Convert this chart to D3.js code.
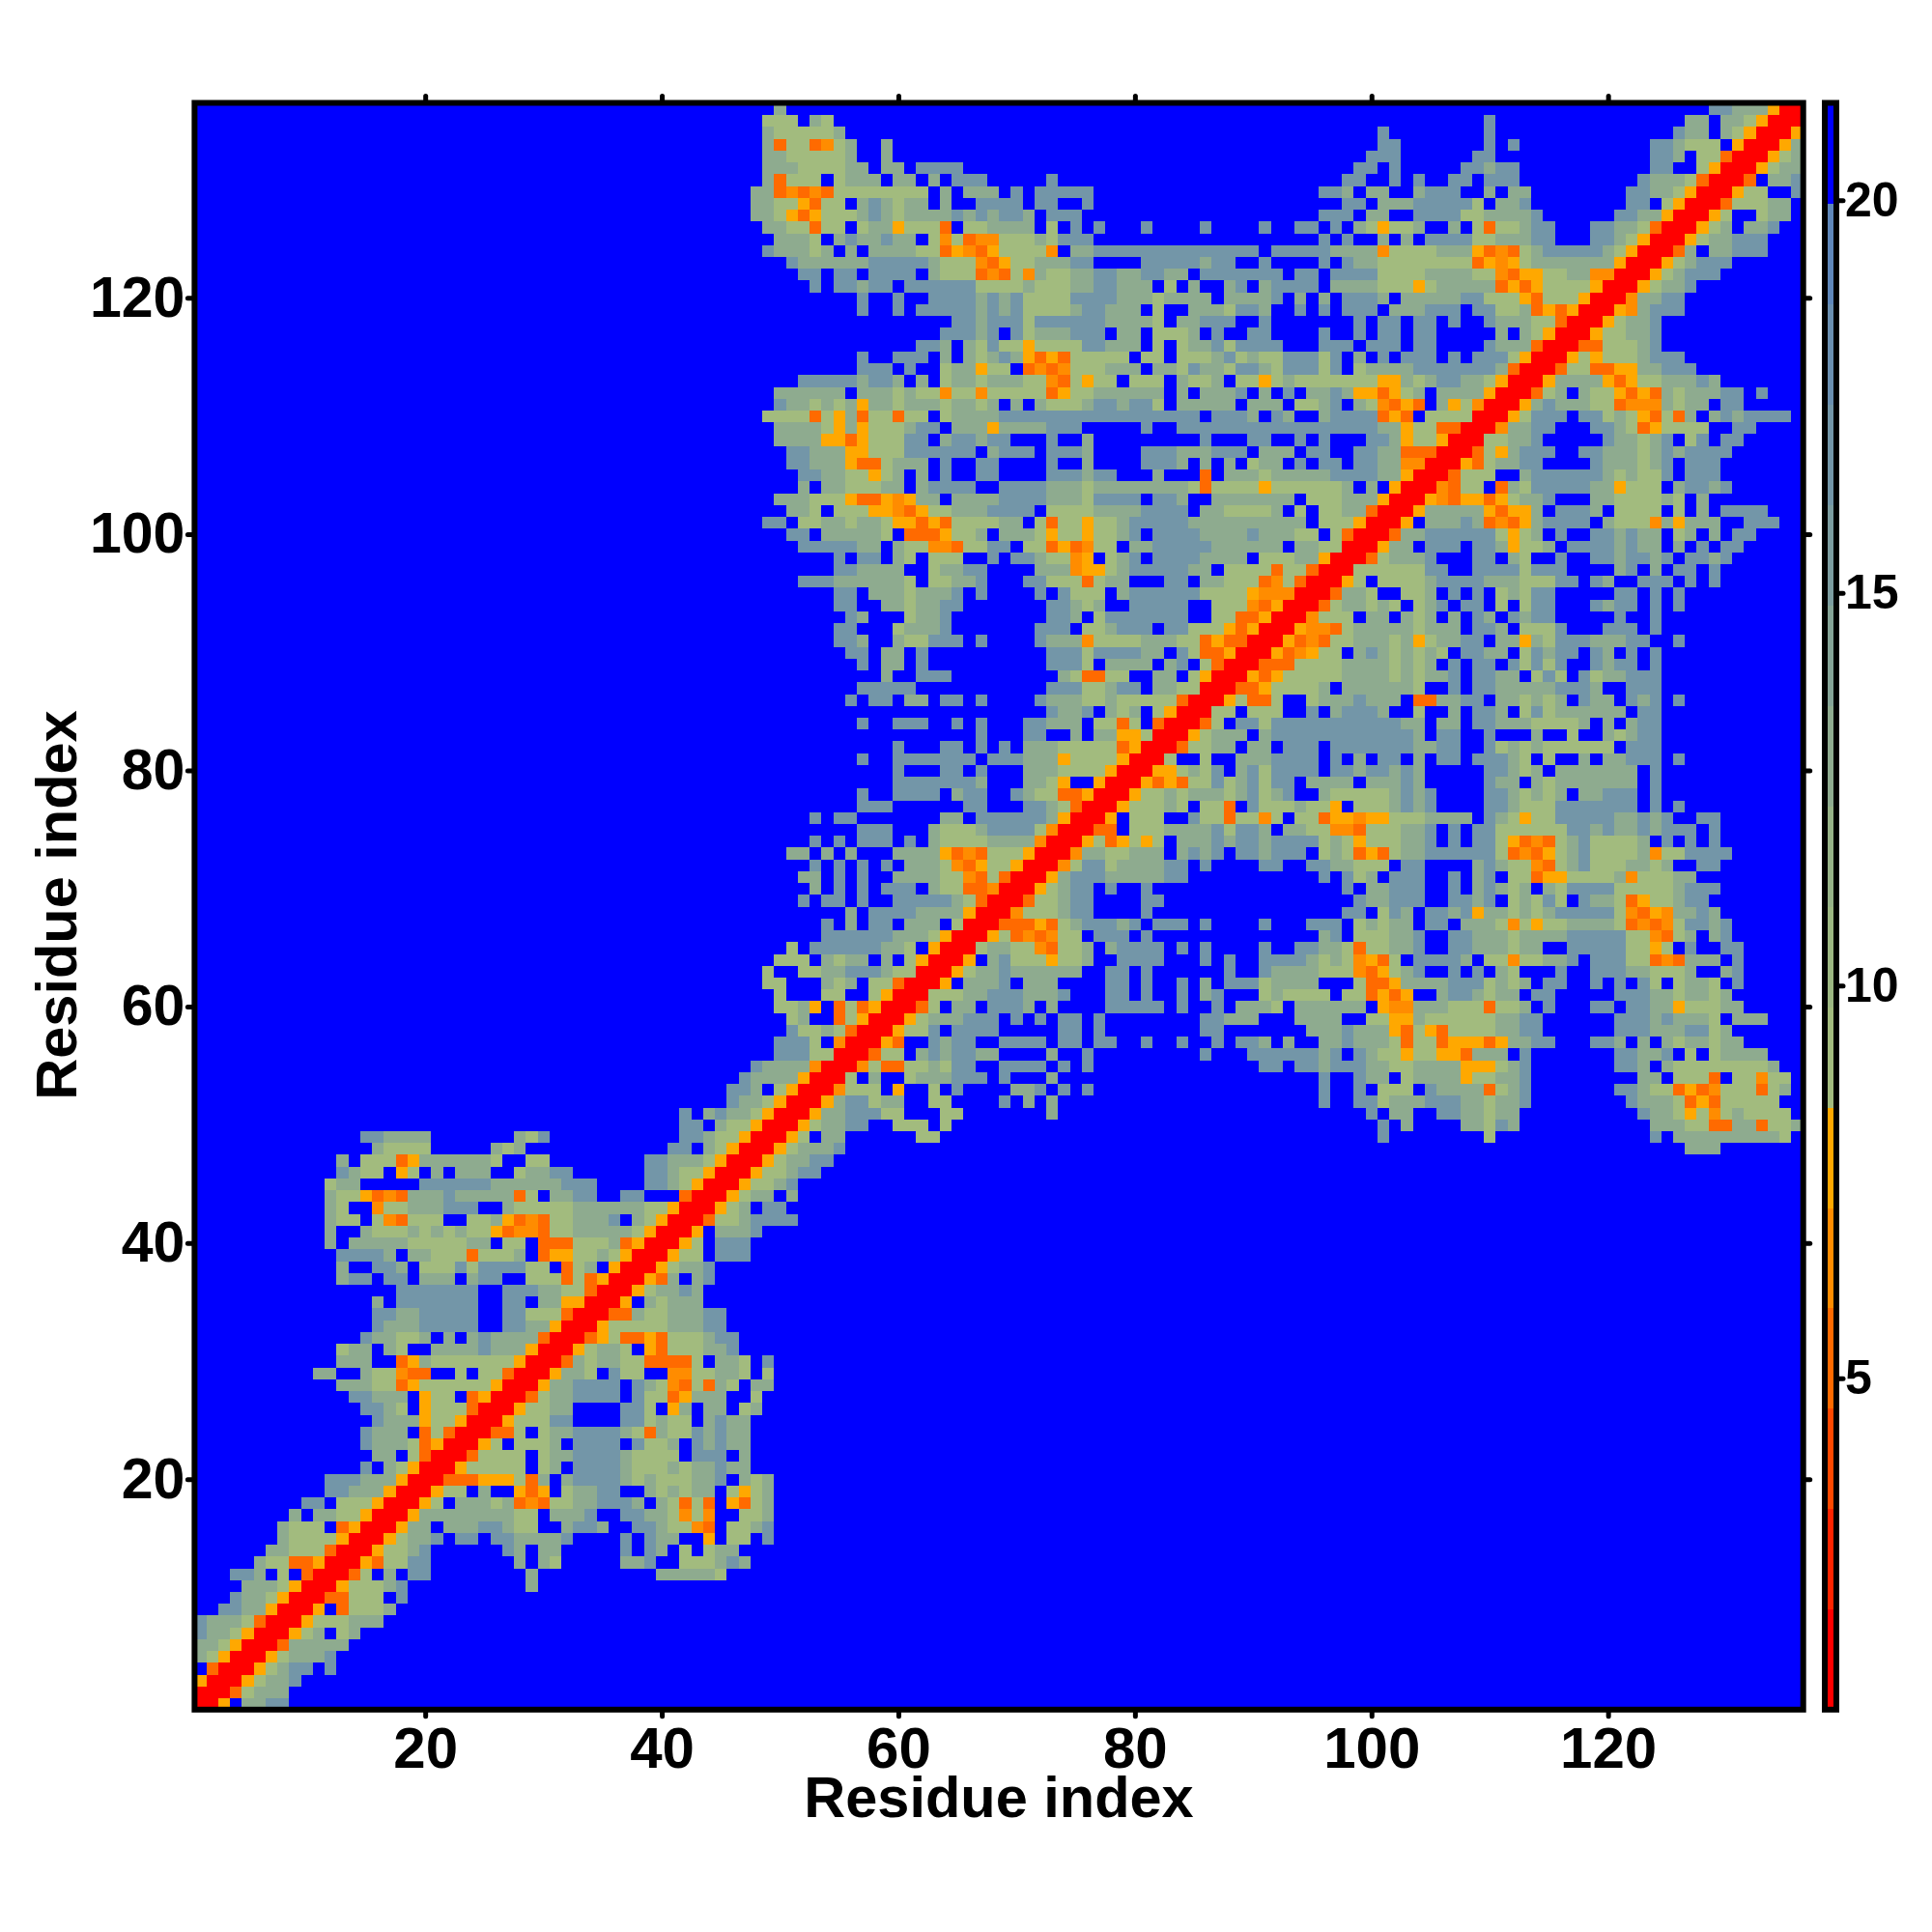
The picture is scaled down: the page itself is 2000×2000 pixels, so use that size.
<!DOCTYPE html>
<html><head><meta charset="utf-8">
<script src="https://cdnjs.cloudflare.com/ajax/libs/d3/7.8.5/d3.min.js"></script>
<style>html,body{margin:0;padding:0;background:#fff}svg{display:block}text{font-family:"Liberation Sans",Arial,sans-serif;font-weight:700;fill:#000}</style>
</head><body><div id="chart"></div>
<script>
const residueCount = 136;
const xTickValues = [20,40,60,80,100,120];
const yTickValues = [20,40,60,80,100,120];
const colorbarTicks = [5,10,15,20];
const axisTitle = "Residue index";
const paletteColors = ["#ff0000","#ff2400","#ff4800","#ff6a00","#ff8c00","#ffa800","#a2bb7e","#9cb782","#96b287","#8eab8f","#85a497","#7c9da0","#7396a8","#6a8fb0","#5f87ba","#0000ff"];
const colorDomain = [0.78,21.24];
// distance (angstrom) for each character of the row strings; "." is beyond the scale
const distanceOfCode = {R:1.5,f:5.2,o:6.5,y:7.8,s:9.6,m:12.8,t:17,".":21};
// one entry per residue y = 1..136; tokens "startX:codes" give cells x <= y; matrix is symmetric
const rows = [
"1:R","1:RR","1:yRR","1:.fRR","1:msyRR","1:mmsyRR","1:tmmsyRR","1:tmmmsfRR","3:ttmmyRR","4:tmmsyRR",
"5:mmmsyRR","4:ttm.s.fRR","6:mssffyRR","7:mmsssfRR","8:mssssyRR","8:msss.fyRR","9:m.mmssyRR","10:tt.sssyRR","12:ttmmmyRR","12:tttmmmyRR",
"15:t.msyRR","16:mm.sfRR","15:tmmmsfyRR","15:tmmm.fsfRR","16:tmmmyssyRR","15:ttms.ysssfRR","14:ttmmm.yss.fyRR","13:mmmssfyssssssyRR","11:mm..mssoff..s.ssfRR","13:mmm..fymsssssssyRR",
"13:smm.ms..mmmmtmmmyRR","15:tmmssm.m.mtmmmmfRR","16:tmmmttttt..ttmmyRR","16:ttmmttttt..ttsssfRR","16:m.ttttttt..tt.mmyyRR","18:ttttttt..tttmmssfRR","13:mtt.tt.mmm.mtt..sssfsfyRR","13:m..ttm.ssststtttss.fsm.yRR","13:ttttm.mmsssfsssm.fyyssmsyRR","12:m.mmmmmsssssmm.ss.fffsssmfyRR",
"12:m..msssmsmsmssyfoofssmmmmmsyRR","12:mss.sofsss..ssmyfofssmmmt.msyRR","12:ms..ossmmmttt..msssssmmmmmmssyRR","12:mssyfofmmmtmmmmmfs.mmtt..tt...fRR","12:smm.....ttttttmmmmmmttt....ttmsyRR","13:tmss.ys.m.mmm..smmtt......ttmssyRR","13:m.sssfymmmmmms..ss........ttmmmsyRR","16:mssss 26:msm 41:tt.msyRR","15:ttmmmm 28:mst 42:ttmssyRR","42:tt.mssyRR",
"42:t.mtmmsyRR","46:tmmsyRR","46:ttm.syRR","47:tmmmmyRR","48:tmmmmoRR","50:tttssRR","50:ttts.oRR","51:tssmsfRR","51:sm..fsyRR","50:ssmy.fsfyRR",
"50:s...ss..syRR","49:ss...msm.ssfRR","49:s..ssmmtttmssRR","50:sss.msmm.m.syRR","51:s.ttttttmms.yRR","54:ttttttmmmsyRR","54:t.m.tt.mmm.sRR","56:m.ttttmmmmyRR","52:t.tt.t..tttttmsfRR","53:m.t.t.ttt.mssffoRR",
"52:mm.t.t..mmmmssofsfRR","53:t.t.t.t.mmmsofyssyRR","51:mm.m.m...mmmmyfofsssyRR","53:t.t.ttt.t.mssssmmmmoRR","57:ttt...msssmttttsoRR","53:t.tt.......mm.ttttttmyRR","57:ttt 66:tt 71:ttmsfRR","57:t 60:tttt.mtt..tmssffyRR","60:tttttttm...mmsy..yRR","60:t...tt.t...mmmssssyRR",
"57:t 60:ttttttt.tttmmmyssssyRR","60:t 64:tt.t.t.mmmsssssfyRR","67:t 71:tt..m.mmyysRR","57:t 60:ttt 65:t.t 71:ttmmm.ssfs.fRR","73:tmmt.msm.syRR","56:t.tt.mm.tt.t 72:tmmmssmsssssfRR","57:ttttt 73:tttssmtt.mmssRR","59:m..ttt 74:msffss..mm.syRR","57:t.mm.t 73:ttts.mmmm.mt.sfRR","56:tt.mm.t 73:tttsttttmm.tsffyRR",
"55:ttm..mssttt.t 72:tmmmossssmmmssfyffRR","55:tt...smmmt 72:ttt.ssmttt.ttsssyfyRR","56:tm...smmt 73:ttm.sttttttt..ssffyRR","55:tt..mmsmmtt 73:ttmsm..ttttt..sssofyRR","55:tt.mmmsmmmt.t....t.tsss.mttttttssssyoooRR","52:tttmmmmmms.ssmmt...ttsssfsmm...tt.mmsssfosfRR","55:ttmmmm..smmtt....mmmoyysmtttttmm.ssssfssfRR","55:t.tt.ms.sss..t.ttmssoy.smt.ttttmmmm.sssmmyRR","52:tttttmm.mssoofsstt.ssfyfoss.mmtttttmmmmmm.mmssRR","51:tt.mmmmms.fffyssm.mmmsyssyssmt.ttttmmmmtmmmss.sfRR",
"49:tt.ssmmsmmsyyfyfssssmm.sfssyssmtttttmmmmmmmmmm.sssyRR","51:mms.sssyyofyssmmmtttt.ssssmmmmtttt.mmssssm.s.ssmmfRR","50:mmmsssyffyoymm.mmmmttttmmmstttt.ttm..mmmmmmm.sssmmmyRR","52:m.mmsssmm.mtttt..ttttmmmsmmmmmmmmsfssssyssssssm.m.yRR","52:ttmmssysm.m.t..tt....tttmtt...m...f.mmmsmmmmmttttmmyRR","51:ttmmmyffsmmm.t..tt....t..m....tttm.m.m.smm.t.tt.ttmmooRR","51:ttmmmyyssstttttt.mttt.tttm....tttmmmttt.mmm.tt..ttmmfffRR","50:mmmmyyfyssstt.mttmtt...t..m.........t...tt..t.t...ttmyssyRR","50:mmmmsymysssmtt.mmmymmmmttt.....t..tttttttttttttttttmmyssffRR","49:ssssfsymfssfss.smmmmttttttttttttttttt.tttm.tm..mttttfyf.ssssRR",
"50:tmmsmsmymmsmmmsmmsm.m.msssmttmtts.mmmmm.mmm.ssmt.msofyf.mysoRR","50:mmmmmm.mmmsmssossosssssfyssmmmmmm.m.mmmt.m.t.mmtmyyfysm.mmmmyRR","52:tttttmttm.m.smmsmmmssofsyss.sss.mssm.ssysmsssssssyymsmttmmsyRR","57:ttt.t..smmyss.fofosssmmm.mmstmmsttmstttst.smmmmtttttttmfRR","57:t..ttt.m.msmtmyfyfsssss.ss.sssmtsmsstttst.m.t.ttt.t.tttsyRR","62:ttm.mstssyssssttmmm.s.smmtstttt...ttt.ttt.tt....tmmmfRR","64:tttmt.tsmmmttt.mm.sssm.t..tt....t..t.tt.tt.....m.msyRR","65:ttmtttsttttttmmmms.mmttt..t.......t.tt.tt.t..tmmmssfRR","57:t..t.tttttmtmtssssmttmmm.s..mmmsttm..t.t.ttt.mmmttt.ttssmfyfyRR","57:t..t..ttttmtmtssssttttmmmsmmmm.mmmmt.m.m.tttm.mmmmmttsssyfsssyRR",
"53:t.ttmtt.ttttttssssmsssmmttmmm.s.m..mt.mtttt.mmmmsssysmmmmmfyfyssssyRR","52:tt.tt.tttt.msssfofsomssmmttmmttmm.ttttttt.tt.ttttssssmmmmssofyyssmmooRR","51:tmmmmmmtttttmsssofyssmmmtt....tttttmtt..t....t.tmmssssssssfyoysmmmmmmmyRR","49:tmmmsm.m.mmmmssfyofyssssо.mmtttttttttttttt.tttttmmmmossssmmmyfofsmtttttmsyRR".replace("о","o"),"50:mmms.mtmmtmm.sosfoosssmsttt...................t.t..m.m.ttttssmmmtt...ttmsyRR","49:mmssfss.smmysssf.ssmmmm.s.t.t 81:t 86:t 91:t 94:tt.t.msyssm..m.sfssmtt...ttmmsfRR","48:mmsyfysssmtmsmmmmtmtmttm.ttt 96:ttt.mm..ttttssmmmmt 121:ttmmyRR","48:mmssyfss.mtmsmm.m..tttt.tt..t 98:tt.mmmttttts.mmt 122:tt.syRR","48:mmfofofssssssss.m.mmm.t.ttttt 96:ttm.mm..mttt..m.mm 122:ttmmsyRR","49:mfsss.smmm.mm.m.ttt 73:t 98:tt..t.t 107:tt.ttt 123:tmmmsfRR",
"49:mmmssssmm.mm.tttt 99:tt.t 108:ttmtt 124:tt..syRR","49:mmsssssm 59:m 100:ttt 109:tt 124:ttm.ssfRR","49:mfssfosm 59:m 101:tt 110:t.t 124:ttmsss.yRR","49:msssssm 101:t 110:t 126:tmm.msyRR","49:sss.ms 110:t 127:mm.mmsyRR","50:m 129:ttmmmyRR"
];

const matrix = d3.range(residueCount).map(() => new Array(residueCount).fill(distanceOfCode["."]));
rows.forEach((row, yi) => {
  row.split(" ").forEach(tok => {
    const [s, codes] = tok.split(":");
    [...codes].forEach((c, k) => {
      const xi = +s - 1 + k;
      if (xi <= yi) { matrix[yi][xi] = distanceOfCode[c]; matrix[xi][yi] = distanceOfCode[c]; }
    });
  });
});
const cells = [];
matrix.forEach((r, yi) => r.forEach((v, xi) => cells.push({x: xi+1, y: yi+1, v})));

const svg = d3.select("#chart").append("svg").attr("width",2000).attr("height",2000);
const x = d3.scaleLinear().domain([0.5,136.5]).range([201.4,1866.7]);
const y = d3.scaleLinear().domain([0.5,136.5]).range([1769.8,106.5]);
const color = d3.scaleQuantize().domain(colorDomain).range(paletteColors);
const step = x(2)-x(1), stepY = y(1)-y(2);

svg.append("g").attr("shape-rendering","crispEdges").selectAll("rect").data(cells).join("rect")
  .attr("x",d=>x(d.x-0.5)).attr("y",d=>y(d.y+0.5)).attr("width",step+0.5).attr("height",stepY+0.5)
  .attr("fill",d=>color(d.v));

svg.append("rect").attr("x",x(0.5)).attr("y",y(136.5)).attr("width",x(136.5)-x(0.5)).attr("height",y(0.5)-y(136.5))
  .attr("fill","none").attr("stroke","#000").attr("stroke-width",6);

function style(g, size){
  g.select(".domain").remove();
  g.selectAll(".tick line").attr("stroke","#000").attr("stroke-width",5).attr("stroke-linecap","round");
  g.selectAll(".tick text").attr("font-size",size).attr("font-weight",700).attr("font-family",'"Liberation Sans",Arial,sans-serif');
}
svg.append("g").attr("transform",`translate(0,${y(0.5)+1})`).call(d3.axisBottom(x).tickValues(xTickValues).tickSize(6).tickPadding(11)).call(style,60);
svg.append("g").attr("transform",`translate(${x(0.5)-1},0)`).call(d3.axisLeft(y).tickValues(yTickValues).tickSize(6).tickPadding(3)).call(style,59);
svg.append("g").attr("transform",`translate(0,${y(136.5)-1})`).call(d3.axisTop(x).tickValues(xTickValues).tickSize(6).tickFormat("")).call(style,60);
svg.append("g").attr("transform",`translate(${x(136.5)+1},0)`).call(d3.axisRight(y).tickValues(yTickValues).tickSize(6).tickFormat("")).call(style,60);

svg.append("text").attr("x",1034).attr("y",1881).attr("text-anchor","middle").attr("font-size",59.5).text(axisTitle);
svg.append("text").attr("transform","translate(79,937) rotate(-90)").attr("text-anchor","middle").attr("font-size",59.5).text(axisTitle);

// colour bar
const cb = d3.scaleLinear().domain(colorDomain).range([1769.8,106.5]);
const levels = paletteColors.map((c,i)=>({c, lo: color.invertExtent(c)[0], hi: color.invertExtent(c)[1]}));
svg.append("g").attr("shape-rendering","crispEdges").selectAll("rect").data(levels).join("rect")
  .attr("x",1889).attr("width",12).attr("y",d=>cb(d.hi)).attr("height",d=>cb(d.lo)-cb(d.hi)+0.5).attr("fill",d=>d.c);
svg.append("rect").attr("x",1889).attr("width",12).attr("y",cb(colorDomain[1])).attr("height",cb(colorDomain[0])-cb(colorDomain[1]))
  .attr("fill","none").attr("stroke","#000").attr("stroke-width",6);
svg.append("g").attr("transform","translate(1903,0)").call(d3.axisRight(cb).tickValues(colorbarTicks).tickSize(5).tickPadding(2)).call(style,50);
</script></body></html>
